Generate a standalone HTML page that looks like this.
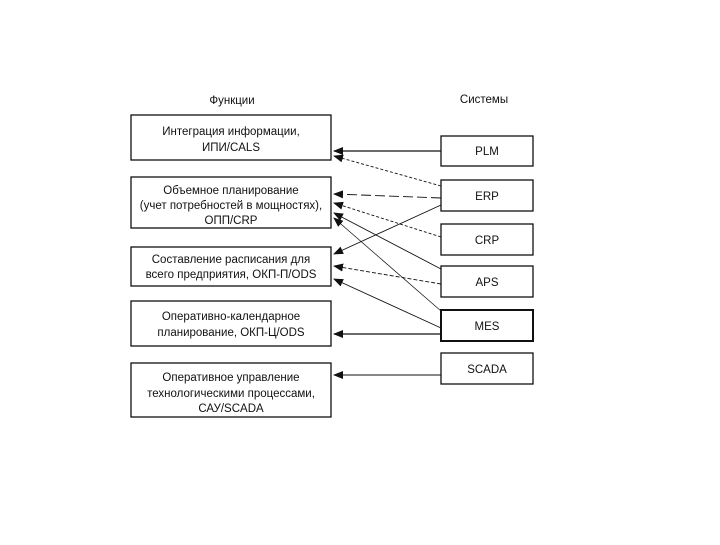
<!DOCTYPE html>
<html><head><meta charset="utf-8"><style>
body{margin:0;background:#fff;}
svg text{font-family:"Liberation Sans","DejaVu Sans",sans-serif;font-size:11.5px;fill:#111;text-anchor:middle;}
</style></head><body>
<svg width="720" height="540" xmlns="http://www.w3.org/2000/svg">
<defs><marker id="a" markerWidth="10" markerHeight="8" refX="9" refY="4" orient="auto" markerUnits="userSpaceOnUse"><path d="M0,0 L10,4 L0,8 Z" fill="#111"/></marker></defs>
<g fill="none" stroke="#111" stroke-width="1.3">
<rect x="131" y="115" width="200" height="45"/>
<rect x="131" y="177" width="200" height="51"/>
<rect x="131" y="247" width="200" height="39"/>
<rect x="131" y="301" width="200" height="45"/>
<rect x="131" y="363" width="200" height="54"/>
<rect x="441" y="136" width="92" height="30"/>
<rect x="441" y="180" width="92" height="31"/>
<rect x="441" y="224" width="92" height="31"/>
<rect x="441" y="266" width="92" height="31"/>
<rect x="441" y="310" width="92" height="31" stroke-width="2"/>
<rect x="441" y="353" width="92" height="31"/>
</g>
<g stroke="#111" stroke-width="0.9" marker-end="url(#a)">
<line x1="441" y1="151" x2="334" y2="151" stroke-width="1.2"/>
<line x1="441" y1="186" x2="334" y2="156" stroke-dasharray="3,2"/>
<line x1="441" y1="198" x2="334" y2="194" stroke-dasharray="10,4"/>
<line x1="441" y1="205" x2="334" y2="254"/>
<line x1="441" y1="237" x2="334" y2="203" stroke-dasharray="3,2"/>
<line x1="441" y1="269" x2="334" y2="213"/>
<line x1="441" y1="311" x2="334" y2="218" stroke-width="0.7"/>
<line x1="441" y1="284" x2="334" y2="266" stroke-dasharray="4,2"/>
<line x1="441" y1="328" x2="334" y2="279"/>
<line x1="441" y1="334" x2="334" y2="334" stroke-width="1.2"/>
<line x1="441" y1="375" x2="334" y2="375"/>
</g>
<text x="232" y="104">Функции</text>
<text x="484" y="103">Системы</text>
<text x="231" y="135">Интеграция информации,</text>
<text x="231" y="151">ИПИ/CALS</text>
<text x="231" y="194">Объемное планирование</text>
<text x="231" y="209">(учет потребностей в мощностях),</text>
<text x="231" y="224">ОПП/CRP</text>
<text x="231" y="263">Составление расписания для</text>
<text x="231" y="278">всего предприятия, ОКП-П/ODS</text>
<text x="231" y="320">Оперативно-календарное</text>
<text x="231" y="336">планирование, ОКП-Ц/ODS</text>
<text x="231" y="381">Оперативное управление</text>
<text x="231" y="397">технологическими процессами,</text>
<text x="231" y="412">САУ/SCADA</text>
<text x="487" y="155">PLM</text>
<text x="487" y="200">ERP</text>
<text x="487" y="244">CRP</text>
<text x="487" y="286">APS</text>
<text x="487" y="330">MES</text>
<text x="487" y="373">SCADA</text>
</svg>
</body></html>
